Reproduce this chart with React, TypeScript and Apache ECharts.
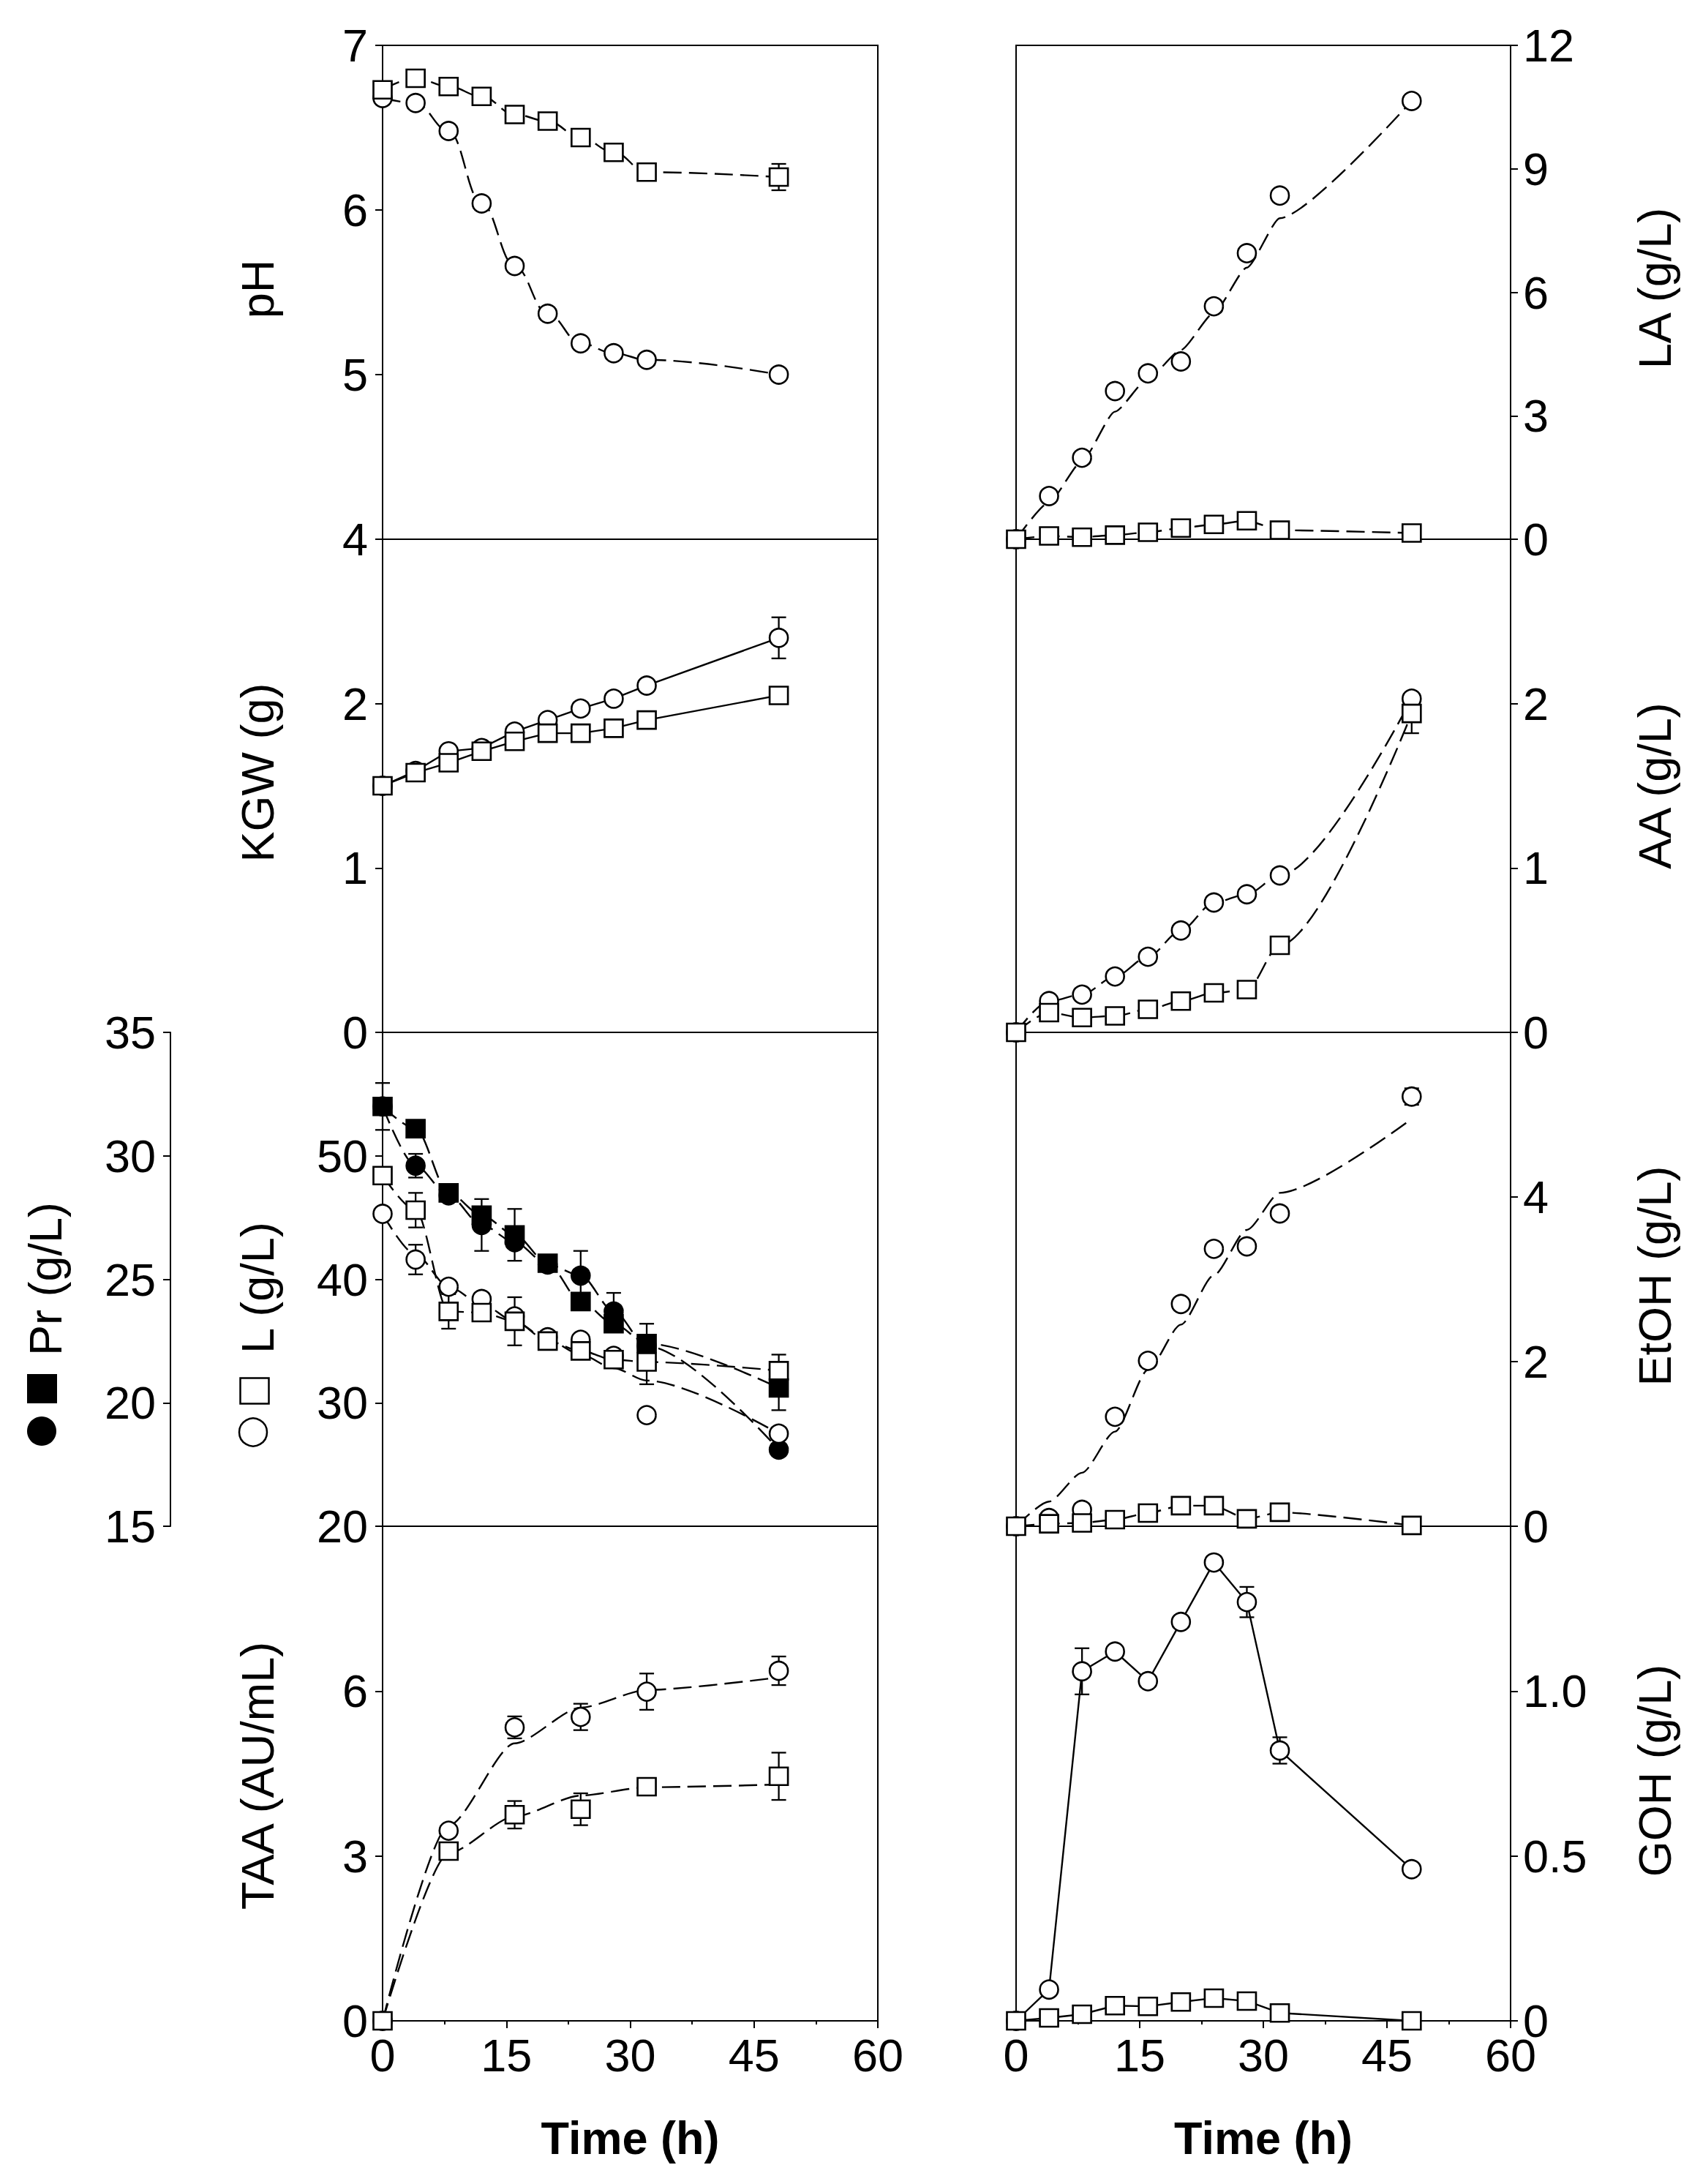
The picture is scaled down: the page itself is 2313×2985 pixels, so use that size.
import React, { useEffect, useRef } from "react";
import * as echarts from "echarts";

// ---------------- data ----------------
const TIME = [0, 4, 8, 12, 16, 20, 24, 28, 32, 48];
const TIME_TAA = [0, 8, 16, 24, 32, 48];
const X_TICKS = [0, 15, 30, 45, 60];

// pH
const PH_CIRCLE = [6.68, 6.65, 6.48, 6.04, 5.66, 5.37, 5.19, 5.13, 5.09, 5.0];
const PH_SQUARE = [6.73, 6.8, 6.75, 6.69, 6.58, 6.54, 6.44, 6.35, 6.23, 6.2];
const PH_SQUARE_ERR = [0, 0, 0, 0, 0, 0, 0, 0, 0, 0.08];

// KGW (g)
const KGW_CIRCLE = [1.5, 1.59, 1.71, 1.73, 1.83, 1.9, 1.97, 2.03, 2.11, 2.4];
const KGW_CIRCLE_ERR = [0, 0, 0, 0, 0, 0, 0, 0, 0, 0.125];
const KGW_SQUARE = [1.5, 1.58, 1.64, 1.71, 1.77, 1.82, 1.82, 1.85, 1.9, 2.05];

// Pr (g/L) filled symbols
const PR_CIRCLE = [32.0, 29.6, 28.4, 27.2, 26.5, 25.6, 25.15, 23.7, 22.3, 18.1];
const PR_CIRCLE_ERR = [0, 0.48, 0, 1.05, 0, 0, 1.0, 0.75, 0, 0];
const PR_SQUARE = [32.0, 31.1, 28.5, 27.6, 26.8, 25.65, 24.1, 23.2, 22.4, 20.6];
const PR_SQUARE_ERR = [0.95, 0, 0, 0, 1.05, 0, 0, 0, 0.8, 0.9];

// L (g/L) open symbols
const L_CIRCLE = [45.3, 41.6, 39.4, 38.4, 37.0, 35.3, 35.1, 33.8, 29.0, 27.5];
const L_CIRCLE_CURVE = [45.3, 42.0, 39.4, 38.0, 36.6, 35.1, 33.9, 32.8, 31.8, 27.5];
const L_CIRCLE_ERR = [0, 1.2, 0, 0, 0, 0, 0, 0, 0, 0];
const L_SQUARE = [48.4, 45.6, 37.4, 37.3, 36.6, 35.0, 34.2, 33.5, 33.3, 32.6];
const L_SQUARE_ERR = [0, 1.4, 1.4, 0, 1.95, 0, 0, 0, 1.8, 1.3];

// TAA (AU/mL)
const TAA_CIRCLE = [0, 3.46, 5.34, 5.53, 5.99, 6.37];
const TAA_CIRCLE_CURVE = [0, 3.55, 5.05, 5.7, 6.02, 6.25];
const TAA_CIRCLE_ERR = [0, 0, 0.2, 0.24, 0.33, 0.26];
const TAA_SQUARE = [0, 3.09, 3.75, 3.85, 4.26, 4.45];
const TAA_SQUARE_CURVE = [0, 3.05, 3.72, 4.1, 4.25, 4.3];
const TAA_SQUARE_ERR = [0, 0, 0.25, 0.29, 0.1, 0.43];

// LA (g/L)
const LA_CIRCLE = [0, 1.05, 1.98, 3.6, 4.03, 4.32, 5.66, 6.95, 8.35, 10.65];
const LA_CIRCLE_CURVE = [0, 0.9, 1.9, 3.1, 3.9, 4.6, 5.5, 6.6, 7.8, 10.65];
const LA_SQUARE = [0, 0.08, 0.05, 0.1, 0.17, 0.27, 0.36, 0.45, 0.22, 0.15];

// AA (g/L)
const AA_CIRCLE = [0, 0.19, 0.23, 0.34, 0.46, 0.62, 0.79, 0.84, 0.955, 2.03];
const AA_SQUARE = [0, 0.12, 0.09, 0.1, 0.14, 0.19, 0.24, 0.26, 0.53, 1.94];
const AA_SQUARE_ERR = [0, 0, 0, 0, 0, 0, 0, 0, 0, 0.12];

// EtOH (g/L)
const ET_CIRCLE = [0, 0.1, 0.2, 1.33, 2.01, 2.7, 3.37, 3.4, 3.8, 5.22];
const ET_CIRCLE_CURVE = [0, 0.3, 0.65, 1.15, 1.9, 2.45, 3.05, 3.6, 4.05, 4.95];
const ET_CIRCLE_ERR = [0, 0, 0, 0, 0, 0, 0, 0, 0, 0.1];
const ET_SQUARE = [0, 0.03, 0.04, 0.08, 0.16, 0.25, 0.25, 0.09, 0.17, 0.01];

// GOH (g/L)
const GOH_CIRCLE = [0, 0.095, 1.06, 1.12, 1.03, 1.21, 1.39, 1.27, 0.82, 0.46];
const GOH_CIRCLE_ERR = [0, 0, 0.07, 0, 0, 0, 0, 0.046, 0.04, 0];
const GOH_SQUARE = [0, 0.009, 0.02, 0.046, 0.044, 0.057, 0.069, 0.06, 0.024, 0];

// ---------------- layout ----------------
const W = 2313;
const H = 2985;
const LX0 = 523;
const LX1 = 1200;
const RX0 = 1389;
const RX1 = 2065;
const ROWS = [62, 737, 1411, 2086, 2762];
const FONT = "'Liberation Sans', Arial, Helvetica, sans-serif";
const FS = 63;
const LH = 44;
const DASH = [25, 10];

const pairs = (xs: number[], ys: number[]) => xs.map((x, i) => [x, ys[i]]);

function curve(ax: number, yIdx: number, xs: number[], ys: number[], dashed: boolean, smooth: number) {
  return {
    type: "line",
    xAxisIndex: ax,
    yAxisIndex: yIdx,
    data: pairs(xs, ys),
    showSymbol: false,
    symbol: "none",
    smooth,
    smoothMonotone: "x",
    lineStyle: { color: "#000", width: 2.4, type: dashed ? DASH : "solid" },
    z: 2,
    silent: true,
  };
}

function marks(ax: number, yIdx: number, xs: number[], ys: number[], sym: string, filled: boolean) {
  return {
    type: "scatter",
    xAxisIndex: ax,
    yAxisIndex: yIdx,
    data: pairs(xs, ys),
    symbol: sym,
    symbolSize: sym === "rect" ? [25, 24] : 25,
    itemStyle: { color: filled ? "#000" : "#fff", borderColor: "#000", borderWidth: 2.6, opacity: 1 },
    z: 5,
    silent: true,
  };
}

function errs(ax: number, yIdx: number, xs: number[], ys: number[], es: number[]) {
  const data: number[][] = [];
  xs.forEach((x, i) => {
    if (es[i]) data.push([x, ys[i] - es[i], ys[i] + es[i]]);
  });
  return {
    type: "custom",
    xAxisIndex: ax,
    yAxisIndex: yIdx,
    data,
    encode: { x: 0, y: [1, 2] },
    z: 3,
    silent: true,
    clip: false,
    renderItem: (params: any, api: any) => {
      const x = api.value(0);
      const top = api.coord([x, api.value(2)]);
      const bot = api.coord([x, api.value(1)]);
      const w = 10;
      const st = { stroke: "#000", lineWidth: 2.3 };
      return {
        type: "group",
        children: [
          { type: "line", shape: { x1: top[0], y1: top[1], x2: bot[0], y2: bot[1] }, style: st },
          { type: "line", shape: { x1: top[0] - w, y1: top[1], x2: top[0] + w, y2: top[1] }, style: st },
          { type: "line", shape: { x1: bot[0] - w, y1: bot[1], x2: bot[0] + w, y2: bot[1] }, style: st },
        ],
      };
    },
  };
}

function xAxis(grid: number, bottom: boolean) {
  return {
    type: "value",
    gridIndex: grid,
    min: X_TICKS[0],
    max: X_TICKS[X_TICKS.length - 1],
    interval: 15,
    position: "bottom",
    axisLine: { show: bottom, onZero: false, lineStyle: { color: "#000", width: 2 } },
    axisTick: { show: bottom, inside: false, length: 10, lineStyle: { color: "#000", width: 2 } },
    minorTick: { show: bottom, splitNumber: 2, length: 5, lineStyle: { color: "#000", width: 2 } },
    axisLabel: { show: bottom, fontSize: FS, lineHeight: LH, color: "#000", fontFamily: FONT, margin: 25 },
    splitLine: { show: false },
    minorSplitLine: { show: false },
  };
}

function yAxis(grid: number, min: number, max: number, interval: number, side: string, showMax: boolean, fmt?: any, offset = 0) {
  return {
    type: "value",
    gridIndex: grid,
    min,
    max,
    interval,
    position: side,
    offset,
    axisLine: { show: true, onZero: false, lineStyle: { color: "#000", width: 2 } },
    axisTick: { show: true, inside: false, length: 10, lineStyle: { color: "#000", width: 2 } },
    axisLabel: {
      show: true,
      fontSize: FS,
      lineHeight: LH,
      color: "#000",
      fontFamily: FONT,
      margin: side === "left" ? 20 : 17,
      showMaxLabel: showMax,
      showMinLabel: true,
      formatter: fmt,
    },
    splitLine: { show: false },
  };
}

function vTitle(text: string, x: number, y: number) {
  return {
    type: "text",
    x,
    y,
    rotation: Math.PI / 2,
    silent: true,
    style: { text, fill: "#000", fontSize: FS, fontFamily: FONT, textAlign: "center", textVerticalAlign: "middle" },
  };
}

function hTitle(text: string, x: number, y: number) {
  return {
    type: "text",
    x,
    y,
    silent: true,
    style: { text, fill: "#000", fontSize: FS, fontWeight: "bold", fontFamily: FONT, textAlign: "center", textVerticalAlign: "middle" },
  };
}

function buildOption() {
  const grids: any[] = [];
  for (let r = 0; r < 4; r++) {
    grids.push({ left: LX0, width: LX1 - LX0, top: ROWS[r], height: ROWS[r + 1] - ROWS[r] });
  }
  for (let r = 0; r < 4; r++) {
    grids.push({ left: RX0, width: RX1 - RX0, top: ROWS[r], height: ROWS[r + 1] - ROWS[r] });
  }
  grids.forEach((g) => {
    g.show = true;
    g.borderColor = "#000";
    g.borderWidth = 2;
    g.backgroundColor = "transparent";
    g.containLabel = false;
  });

  const xAxes = [0, 1, 2, 3, 4, 5, 6, 7].map((i) => xAxis(i, i === 3 || i === 7));
  const gohFmt = (v: number) => (v === 0 ? "0" : v.toFixed(1));
  const yAxes = [
    yAxis(0, 4, 7, 1, "left", true),
    yAxis(1, 0, 3, 1, "left", false),
    yAxis(2, 20, 60, 10, "left", false),
    yAxis(3, 0, 9, 3, "left", false),
    yAxis(4, 0, 12, 3, "right", true),
    yAxis(5, 0, 3, 1, "right", false),
    yAxis(6, 0, 6, 2, "right", false),
    yAxis(7, 0, 1.5, 0.5, "right", false, gohFmt),
    yAxis(2, 15, 35, 5, "left", true, undefined, LX0 - 233),
  ];

  const series: any[] = [
    // pH
    curve(0, 0, TIME, PH_CIRCLE, true, 0.4),
    curve(0, 0, TIME, PH_SQUARE, true, 0.4),
    errs(0, 0, TIME, PH_SQUARE, PH_SQUARE_ERR),
    marks(0, 0, TIME, PH_CIRCLE, "circle", false),
    marks(0, 0, TIME, PH_SQUARE, "rect", false),
    // KGW
    curve(1, 1, TIME, KGW_CIRCLE, false, 0),
    curve(1, 1, TIME, KGW_SQUARE, false, 0),
    errs(1, 1, TIME, KGW_CIRCLE, KGW_CIRCLE_ERR),
    marks(1, 1, TIME, KGW_CIRCLE, "circle", false),
    marks(1, 1, TIME, KGW_SQUARE, "rect", false),
    // Pr / L
    curve(2, 8, TIME, PR_CIRCLE, true, 0.3),
    curve(2, 8, TIME, PR_SQUARE, true, 0.3),
    curve(2, 2, TIME, L_CIRCLE_CURVE, true, 0.3),
    curve(2, 2, TIME, L_SQUARE, true, 0.3),
    errs(2, 8, TIME, PR_CIRCLE, PR_CIRCLE_ERR),
    errs(2, 8, TIME, PR_SQUARE, PR_SQUARE_ERR),
    errs(2, 2, TIME, L_CIRCLE, L_CIRCLE_ERR),
    errs(2, 2, TIME, L_SQUARE, L_SQUARE_ERR),
    marks(2, 8, TIME, PR_CIRCLE, "circle", true),
    marks(2, 2, TIME, L_CIRCLE, "circle", false),
    marks(2, 8, TIME, PR_SQUARE, "rect", true),
    marks(2, 2, TIME, L_SQUARE, "rect", false),
    // TAA
    curve(3, 3, TIME_TAA, TAA_CIRCLE_CURVE, true, 0.25),
    curve(3, 3, TIME_TAA, TAA_SQUARE_CURVE, true, 0.25),
    errs(3, 3, TIME_TAA, TAA_CIRCLE, TAA_CIRCLE_ERR),
    errs(3, 3, TIME_TAA, TAA_SQUARE, TAA_SQUARE_ERR),
    marks(3, 3, TIME_TAA, TAA_CIRCLE, "circle", false),
    marks(3, 3, TIME_TAA, TAA_SQUARE, "rect", false),
    // LA
    curve(4, 4, TIME, LA_CIRCLE_CURVE, true, 0.2),
    curve(4, 4, TIME, LA_SQUARE, true, 0.2),
    marks(4, 4, TIME, LA_CIRCLE, "circle", false),
    marks(4, 4, TIME, LA_SQUARE, "rect", false),
    // AA
    curve(5, 5, TIME, AA_CIRCLE, true, 0.3),
    curve(5, 5, TIME, AA_SQUARE, true, 0.3),
    errs(5, 5, TIME, AA_SQUARE, AA_SQUARE_ERR),
    marks(5, 5, TIME, AA_CIRCLE, "circle", false),
    marks(5, 5, TIME, AA_SQUARE, "rect", false),
    // EtOH
    curve(6, 6, TIME, ET_CIRCLE_CURVE, true, 0.25),
    curve(6, 6, TIME, ET_SQUARE, true, 0.2),
    errs(6, 6, TIME, ET_CIRCLE, ET_CIRCLE_ERR),
    marks(6, 6, TIME, ET_CIRCLE, "circle", false),
    marks(6, 6, TIME, ET_SQUARE, "rect", false),
    // GOH
    curve(7, 7, TIME, GOH_CIRCLE, false, 0),
    curve(7, 7, TIME, GOH_SQUARE, false, 0),
    errs(7, 7, TIME, GOH_CIRCLE, GOH_CIRCLE_ERR),
    marks(7, 7, TIME, GOH_CIRCLE, "circle", false),
    marks(7, 7, TIME, GOH_SQUARE, "rect", false),
  ];

  const graphic: any[] = [
    vTitle("pH", 352, 395),
    vTitle("KGW (g)", 352, 1056),
    vTitle("L (g/L)", 352, 1760),
    vTitle("Pr (g/L)", 62, 1748),
    vTitle("TAA (AU/mL)", 352, 2427),
    vTitle("LA (g/L)", 2262, 394),
    vTitle("AA (g/L)", 2262, 1074),
    vTitle("EtOH (g/L)", 2262, 1744),
    vTitle("GOH (g/L)", 2262, 2420),
    // legend-like symbols in the axis titles
    { type: "circle", silent: true, shape: { cx: 57, cy: 1956, r: 20 }, style: { fill: "#000" } },
    { type: "rect", silent: true, shape: { x: 37, y: 1878, width: 41, height: 40 }, style: { fill: "#000" } },
    { type: "rect", silent: true, shape: { x: 328.5, y: 1883.5, width: 39, height: 35 }, style: { fill: "#fff", stroke: "#000", lineWidth: 2.5 } },
    { type: "circle", silent: true, shape: { cx: 346, cy: 1957.5, r: 19 }, style: { fill: "#fff", stroke: "#000", lineWidth: 2.5 } },
    // x-axis titles
    hTitle("Time (h)", (LX0 + LX1) / 2, 2922),
    hTitle("Time (h)", (RX0 + RX1) / 2, 2922),
  ];

  return {
    animation: false,
    backgroundColor: "#fff",
    grid: grids,
    xAxis: xAxes,
    yAxis: yAxes,
    series,
    graphic,
  };
}

export default function App() {
  const ref = useRef<HTMLDivElement>(null);
  useEffect(() => {
    if (!ref.current) return;
    const chart = echarts.init(ref.current, undefined, { renderer: "svg", width: W, height: H });
    chart.setOption(buildOption() as any);
    return () => chart.dispose();
  }, []);
  return <div ref={ref} style={{ position: "absolute", left: 0, top: 0, width: W, height: H, background: "#fff" }} />;
}
